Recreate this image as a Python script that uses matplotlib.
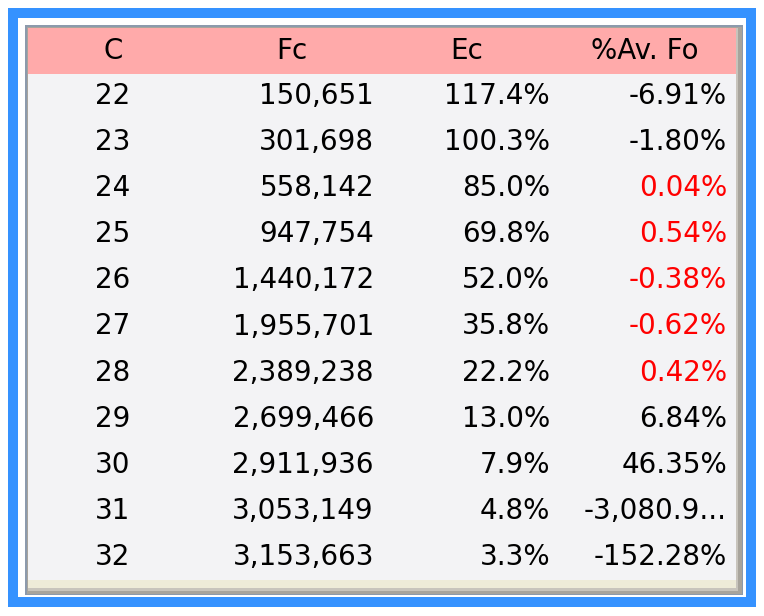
import matplotlib
matplotlib.use("Agg")
import matplotlib.pyplot as plt
from matplotlib.patches import Rectangle

headers = ["C", "Fc", "Ec", "%Av. Fo"]
col_c = ["22", "23", "24", "25", "26", "27", "28", "29", "30", "31", "32"]
col_fc = ["150,651", "301,698", "558,142", "947,754", "1,440,172", "1,955,701",
          "2,389,238", "2,699,466", "2,911,936", "3,053,149", "3,153,663"]
col_ec = ["117.4%", "100.3%", "85.0%", "69.8%", "52.0%", "35.8%", "22.2%",
          "13.0%", "7.9%", "4.8%", "3.3%"]
col_av = ["-6.91%", "-1.80%", "0.04%", "0.54%", "-0.38%", "-0.62%", "0.42%",
          "6.84%", "46.35%", "-3,080.9...", "-152.28%"]
red_rows = [2, 3, 4, 5, 6]

W, H = 764, 616
fig = plt.figure(figsize=(W / 100, H / 100), dpi=100)
ax = fig.add_axes([0, 0, 1, 1])
ax.set_xlim(0, W)
ax.set_ylim(H, 0)
ax.axis("off")

def rect(x0, y0, x1, y1, color):
    ax.add_patch(Rectangle((x0, y0), x1 - x0, y1 - y0, facecolor=color, edgecolor="none"))

# outer blue frame
rect(8, 8, 756, 607, "#3592FF")
# inner white band
rect(18, 18, 746, 597, "#FFFFFF")
# grey border of panel
rect(25, 25, 743, 595, "#8C9AAC")
rect(27, 27, 742, 594, "#A8A49C")
rect(28, 28, 738, 591, "#C8C4BC")
# table body
rect(28, 28, 736, 588, "#F3F3F5")
# bottom beige strip
rect(28, 580, 736, 588, "#EEEBD8")
# header pink
rect(28, 28, 736, 74, "#FFAAAA")

fs = 20
fam = ["DejaVu Sans"]
header_x = [113, 292, 467, 645]
for hx, h in zip(header_x, headers):
    ax.text(hx, 51, h, ha="center", va="center", fontsize=fs, family=fam, color="#000000")

y0, dy = 96, 46.1
for i in range(len(col_c)):
    y = y0 + i * dy
    ax.text(113, y, col_c[i], ha="center", va="center", fontsize=fs, family=fam)
    ax.text(374, y, col_fc[i], ha="right", va="center", fontsize=fs, family=fam)
    ax.text(550, y, col_ec[i], ha="right", va="center", fontsize=fs, family=fam)
    ax.text(727, y, col_av[i], ha="right", va="center", fontsize=fs, family=fam,
            color="#FF0000" if i in red_rows else "#000000")

fig.savefig("out.png", dpi=100)
